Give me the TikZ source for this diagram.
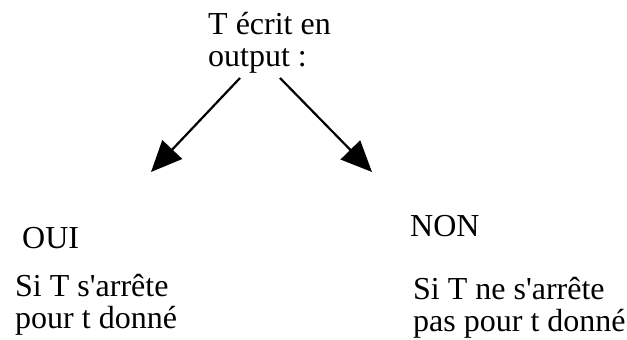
\documentclass[tikz,border=0pt]{standalone}
\usepackage{fontspec}
\setmainfont{Liberation Serif}[Ligatures=TeXOff]
\usetikzlibrary{arrows.meta}
\begin{document}
\begin{tikzpicture}[x=1pt,y=-1pt,
  lbl/.style={anchor=base west,inner sep=0pt,align=left,font=\fontsize{32}{31.5}\selectfont},
  conn/.style={line width=2.2pt,-{Triangle[length=31pt,width=27pt]}}]
\useasboundingbox (0,0) rectangle (627,340);
\node[lbl] (top) at (208,66) {T écrit en\\output :};
\node[lbl] (oui) at (22,248) {OUI};
\node[lbl] (ouitxt) at (15,328) {Si T s'arrête\\pour t donné};
\node[lbl] (non) at (410,236) {NON};
\node[lbl] (nontxt) at (413,331) {Si T ne s'arrête\\pas pour t donné};
\coordinate (ls) at (240,78);
\coordinate (le) at (151,172);
\coordinate (rs) at (280,78);
\coordinate (re) at (372,172);
\draw[conn] (ls) -- (le);
\draw[conn] (rs) -- (re);
\end{tikzpicture}
\end{document}
